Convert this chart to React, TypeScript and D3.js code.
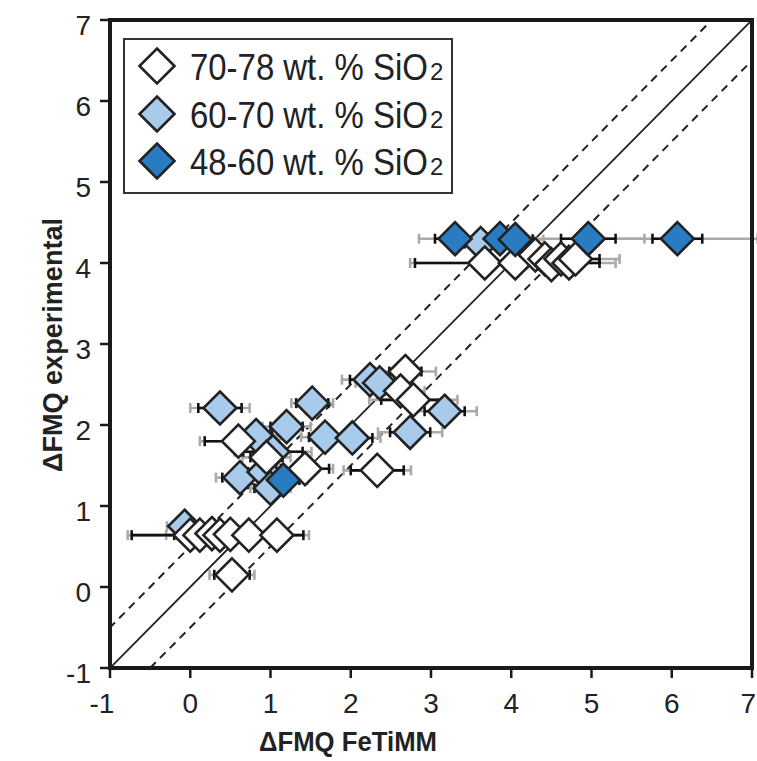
import React from "react";
import * as d3 from "d3";

// ---- data ----
// White: 70-78 wt.% SiO2
const whiteX = [3.67, 4.05, 4.3, 4.42, 4.5, 4.62, 4.72, 4.8, 0.6, 0.95, 1.43, 2.33, 2.68, 2.62, 2.78, 0.0, 0.12, 0.27, 0.37, 0.5, 0.73, 1.08, 0.52];
const whiteY = [4.0, 4.0, 4.1, 4.05, 3.98, 4.05, 4.0, 4.05, 1.8, 1.6, 1.46, 1.44, 2.66, 2.42, 2.31, 0.64, 0.64, 0.66, 0.64, 0.65, 0.64, 0.64, 0.15];
const whiteErrBlack = [0.87, 0.3, 0.2, 0.2, 0.2, 0.2, 0.38, 0.3, 0.42, 0.2, 0.3, 0.33, 0.2, 0.2, 0.4, 0.2, 0.85, 0.2, 0.2, 0.2, 0.2, 0.33, 0.22];
const whiteErrGray = [0.93, 0.4, 0.3, 0.3, 0.3, 0.3, 0.58, 0.55, 0.48, 0.3, 0.35, 0.42, 0.38, 0.3, 0.55, 0.3, 0.9, 0.25, 0.25, 0.25, 0.3, 0.4, 0.28];

// Light blue: 60-70 wt.% SiO2
const lightX = [3.62, 0.37, 1.52, 0.82, 1.2, 1.03, 1.68, 2.02, 0.62, 0.92, 1.0, 2.24, 2.36, 3.17, 2.74, -0.07];
const lightY = [4.24, 2.21, 2.27, 1.87, 1.98, 1.67, 1.85, 1.84, 1.35, 1.42, 1.22, 2.56, 2.52, 2.17, 1.91, 0.75];
const lightErrBlack = [0.2, 0.27, 0.2, 0.2, 0.2, 0.37, 0.2, 0.25, 0.22, 0.2, 0.2, 0.25, 0.2, 0.25, 0.25, 0.15];
const lightErrGray = [0.3, 0.37, 0.26, 0.3, 0.3, 0.48, 0.3, 0.35, 0.3, 0.3, 0.25, 0.35, 0.3, 0.4, 0.4, 0.22];

// Dark blue: 48-60 wt.% SiO2
const darkX = [3.3, 3.86, 4.05, 4.96, 6.07, 1.16];
const darkY = [4.3, 4.3, 4.29, 4.3, 4.3, 1.32];
const darkErrBlack = [0.25, 0.2, 0.22, 0.34, 0.31, 0.2];
const darkErrGray = [0.45, 0.3, 0.35, 0.7, 1.0, 0.3];

const xTicks = [-1, 0, 1, 2, 3, 4, 5, 6, 7];
const yTicks = [-1, 0, 1, 2, 3, 4, 5, 6, 7];
const legendLabels = ["70-78 wt. % SiO", "60-70 wt. % SiO", "48-60 wt. % SiO"];

const WHITE = "#ffffff";
const LIGHT = "#a8cbec";
const DARK = "#2a7cc2";
const FONT = "'Liberation Sans', Arial, Helvetica, sans-serif";

type Pt = { x: number; y: number; eb: number; eg: number; fill: string };

function mk(xs: number[], ys: number[], eb: number[], eg: number[], fill: string): Pt[] {
  return xs.map((x, i) => ({ x, y: ys[i], eb: eb[i], eg: eg[i], fill }));
}

export default function App() {
  const W = 757, H = 761;
  const x = d3.scaleLinear().domain([-1, 7]).range([110, 752]);
  const y = d3.scaleLinear().domain([-1, 7]).range([668, 20]);
  const r = 16.5;
  const cap = 5;

  const light = mk(lightX, lightY, lightErrBlack, lightErrGray, LIGHT);
  const white = mk(whiteX, whiteY, whiteErrBlack, whiteErrGray, WHITE);
  const dark = mk(darkX, darkY, darkErrBlack, darkErrGray, DARK);
  const all = [...light, ...white, ...dark];

  const diamond = (cx: number, cy: number, rr: number) =>
    `M${cx},${cy - rr}L${cx + rr},${cy}L${cx},${cy + rr}L${cx - rr},${cy}Z`;

  const line = d3.line<[number, number]>().x((d) => x(d[0])).y((d) => y(d[1]));

  const errBar = (p: Pt, e: number, color: string, key: string) => {
    const x0 = x(p.x - e), x1 = x(p.x + e), yy = y(p.y);
    return (
      <g key={key} stroke={color} strokeWidth={2.6}>
        <line x1={x0} x2={x1} y1={yy} y2={yy} />
        <line x1={x0} x2={x0} y1={yy - cap} y2={yy + cap} />
        <line x1={x1} x2={x1} y1={yy - cap} y2={yy + cap} />
      </g>
    );
  };

  const legendFills = [WHITE, LIGHT, DARK];
  const legendY = [66, 114, 161];

  return (
    <svg width={W} height={H} style={{ position: "absolute", left: 0, top: 0, background: "#fff" }} fontFamily={FONT}>
      <defs>
        <clipPath id="plotClip">
          <rect x={110} y={20} width={642} height={648} />
        </clipPath>
      </defs>
      {/* reference lines */}
      <g clipPath="url(#plotClip)" fill="none">
        <path d={line([[-1, -1], [7, 7]]) || ""} stroke="#222" strokeWidth={1.8} />
        <path d={line([[-1.5, -1], [6.5, 7]]) || ""} stroke="#222" strokeWidth={2} strokeDasharray="8,6" />
        <path d={line([[-0.5, -1], [7.5, 7]]) || ""} stroke="#222" strokeWidth={2} strokeDasharray="8,6" />
      </g>
      {/* error bars */}
      {all.map((p, i) => errBar(p, p.eg, "#aaaaaa", "g" + i))}
      {all.map((p, i) => errBar(p, p.eb, "#111111", "b" + i))}
      {/* points */}
      {all.map((p, i) => (
        <path key={"p" + i} d={diamond(x(p.x), y(p.y), r)} fill={p.fill} stroke="#222" strokeWidth={2.6} strokeLinejoin="miter" />
      ))}
      {/* frame */}
      <rect x={110} y={20} width={642} height={648} fill="none" stroke="#1a1a1a" strokeWidth={4} />
      {/* y ticks */}
      {yTicks.map((t) => (
        <g key={"yt" + t}>
          <line x1={100} x2={110} y1={y(t)} y2={y(t)} stroke="#1a1a1a" strokeWidth={2.5} />
          <text x={91} y={y(t) + 5} textAnchor="end" dominantBaseline="central" fontSize={28} fill="#222">
            {t}
          </text>
        </g>
      ))}
      {/* x ticks */}
      {xTicks.map((t) => (
        <g key={"xt" + t}>
          <line x1={x(t)} x2={x(t)} y1={668} y2={678} stroke="#1a1a1a" strokeWidth={2.5} />
          <text x={t === 7 ? 756 : x(t) - (t < 0 ? 8 : 0)} y={713} textAnchor={t === 7 ? "end" : "middle"} fontSize={28} fill="#222">
            {t}
          </text>
        </g>
      ))}
      {/* axis titles */}
      <text x={348} y={751} textAnchor="middle" fontSize={28} fontWeight="bold" fill="#222" textLength={178} lengthAdjust="spacingAndGlyphs">
        ΔFMQ FeTiMM
      </text>
      <text transform="translate(62,345) rotate(-90)" textAnchor="middle" fontSize={28} fontWeight="bold" fill="#222" textLength={254} lengthAdjust="spacingAndGlyphs">
        ΔFMQ experimental
      </text>
      {/* legend */}
      <rect x={124} y={39} width={328} height={154} fill="#fff" stroke="#333" strokeWidth={2} />
      {legendLabels.map((lab, i) => (
        <g key={"lg" + i}>
          <path d={diamond(157, legendY[i], 17.5)} fill={legendFills[i]} stroke="#222" strokeWidth={2.6} />
          <text transform={`translate(190,${legendY[i] + 14}) scale(0.89,1)`} fontSize={37} fill="#222">
            {lab}
          </text>
          <text x={430} y={legendY[i] + 14} fontSize={24} fill="#222">
            2
          </text>
        </g>
      ))}
    </svg>
  );
}
